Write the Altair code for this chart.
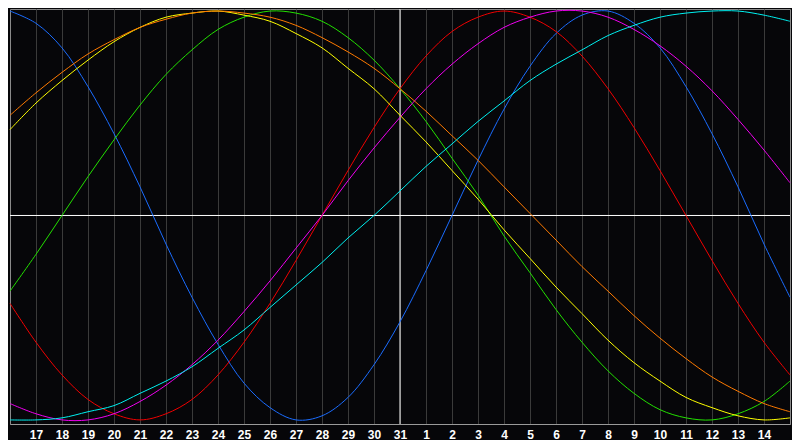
import altair as alt
import pandas as pd

# day offsets across the chart (0 = 16th of first month, 30 = 15th of next month)
days = list(range(31))
tick_days = list(range(1, 30))
tick_labels = ["17", "18", "19", "20", "21", "22", "23", "24", "25", "26", "27", "28", "29", "30", "31",
               "1", "2", "3", "4", "5", "6", "7", "8", "9", "10", "11", "12", "13", "14"]

series_names = ["blue", "red", "green", "magenta", "yellow", "orange", "cyan"]
series_colors = ["#1a6cff", "#f00000", "#22e000", "#f000f0", "#ffff00", "#ff7a00", "#00f0f0"]

blue = [100, 94, 82, 63, 40, 14, -14, -40, -63, -82, -94, -100, -98, -89, -73, -52, -27, 0, 27, 52, 73, 89, 98, 100, 94, 82, 63, 40, 14, -14, -40]
red = [-43, -62, -78, -90, -97, -100, -97, -90, -78, -62, -43, -22, 0, 22, 43, 62, 78, 90, 97, 100, 97, 90, 78, 62, 43, 22, 0, -22, -43, -62, -78]
green = [-37, -19, 0, 19, 37, 54, 69, 81, 91, 97, 100, 99, 95, 87, 76, 62, 46, 28, 10, -10, -28, -46, -62, -76, -87, -95, -99, -100, -97, -91, -81]
magenta = [-92, -97, -100, -100, -97, -91, -83, -73, -61, -47, -32, -16, 0, 17, 33, 48, 62, 74, 84, 92, 97, 100, 100, 97, 91, 83, 73, 61, 47, 32, 16]
yellow = [42, 55, 66, 76, 85, 92, 97, 99, 100, 98, 95, 89, 82, 72, 62, 49, 36, 22, 8, -7, -21, -35, -48, -61, -72, -81, -89, -94, -98, -100, -99]
orange = [49, 60, 70, 79, 86, 92, 96, 99, 100, 99, 97, 93, 87, 80, 72, 62, 51, 39, 27, 14, 1, -12, -25, -37, -49, -60, -70, -79, -86, -92, -96]
cyan = [-100, -100, -99, -96, -93, -87, -81, -74, -65, -56, -45, -34, -23, -11, 0, 12, 24, 35, 46, 56, 66, 74, 81, 88, 93, 97, 99, 100, 100, 98, 95]

center_day = [15]
zero_level = [0]

series_values = dict(zip(series_names, [blue, red, green, magenta, yellow, orange, cyan]))
rows = []
for name in series_names:
    for d, v in zip(days, series_values[name]):
        rows.append({"day": d, "value": v, "series": name})
df = pd.DataFrame(rows)

x_scale = alt.Scale(domain=[0, 30], nice=False, zero=False)
y_scale = alt.Scale(domain=[-102, 101], nice=False, zero=False)

# label expression built from the tick lists (chained conditions)
label_expr = "''"
for d, lab in reversed(list(zip(tick_days, tick_labels))):
    label_expr = f"datum.value == {d} ? '{lab}' : ({label_expr})"


def x_axis():
    return alt.Axis(values=tick_days, labelExpr=label_expr, grid=True, gridColor="#3a3a3a",
                    gridWidth=1, ticks=False, domain=True, domainColor="#9a9a9a",
                    labelColor="white", labelFont="Liberation Sans", labelFontSize=12,
                    labelFontWeight="bold", labelPadding=5, title=None)


lines = alt.Chart(df).mark_line(strokeWidth=1, interpolate="catmull-rom").encode(
    x=alt.X("day:Q", scale=x_scale, axis=x_axis()),
    y=alt.Y("value:Q", scale=y_scale, axis=None),
    color=alt.Color("series:N", scale=alt.Scale(domain=series_names, range=series_colors), legend=None),
)

hrule = alt.Chart(pd.DataFrame({"v": zero_level})).mark_rule(color="white", strokeWidth=1).encode(
    y=alt.Y("v:Q", scale=y_scale, axis=None))
vrule = alt.Chart(pd.DataFrame({"d": center_day})).mark_rule(color="white", strokeWidth=1).encode(
    x=alt.X("d:Q", scale=x_scale, axis=x_axis()))

chart = alt.layer(hrule, vrule, lines).properties(
    width=784, height=432,
    autosize=alt.AutoSizeParams(type="fit", contains="padding"),
    padding=0,
    background="#060609",
).configure_view(stroke="#8a8a8a", strokeWidth=1, fill="#060609")

chart.save("out.html", embed_options={"renderer": "svg", "actions": False})
